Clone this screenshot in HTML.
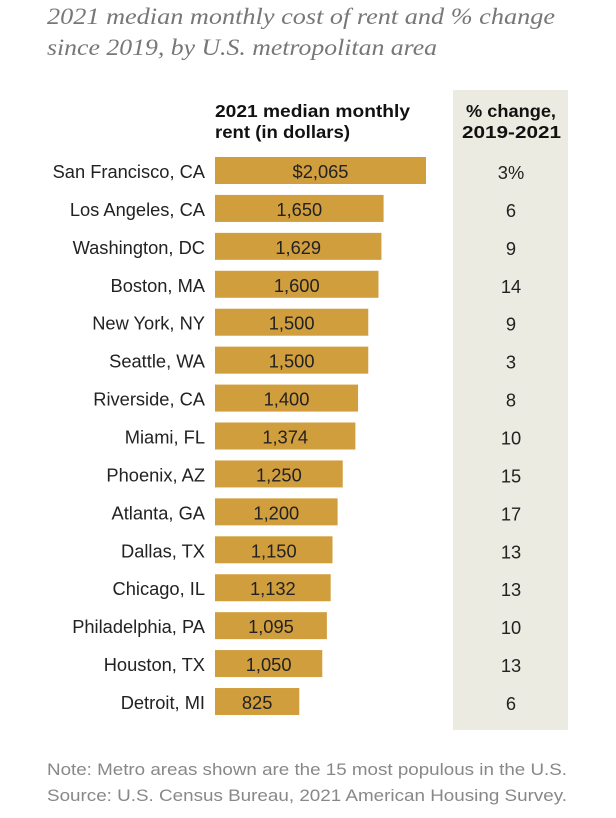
<!DOCTYPE html>
<html><head><meta charset="utf-8"><style>
body{margin:0;background:#fff;width:616px;height:813px;overflow:hidden;font-family:"Liberation Sans",sans-serif;}
</style></head><body>
<svg id="chart" width="616" height="813" xmlns="http://www.w3.org/2000/svg">
<text x="47" y="24" font-family="Liberation Serif" font-style="italic" font-size="23" fill="#777" textLength="508" lengthAdjust="spacingAndGlyphs">2021 median monthly cost of rent and % change</text>
<text x="47" y="55" font-family="Liberation Serif" font-style="italic" font-size="23" fill="#777" textLength="390" lengthAdjust="spacingAndGlyphs">since 2019, by U.S. metropolitan area</text>
<rect x="453" y="90" width="115" height="640" fill="#ecebe1"/>
<text x="215" y="117" font-size="17.5" font-weight="bold" fill="#111" textLength="195" lengthAdjust="spacingAndGlyphs">2021 median monthly</text>
<text x="215" y="138" font-size="17.5" font-weight="bold" fill="#111" textLength="135" lengthAdjust="spacingAndGlyphs">rent (in dollars)</text>
<text x="466" y="117" font-size="17.5" font-weight="bold" fill="#111" textLength="90" lengthAdjust="spacingAndGlyphs">% change,</text>
<text x="462" y="138" font-size="17.5" font-weight="bold" fill="#111" textLength="99" lengthAdjust="spacingAndGlyphs">2019-2021</text>
<g id="rows"></g>
<text x="47" y="775" font-size="16.5" fill="#888" textLength="520" lengthAdjust="spacingAndGlyphs">Note: Metro areas shown are the 15 most populous in the U.S.</text>
<text x="47" y="801" font-size="16.5" fill="#888" textLength="520" lengthAdjust="spacingAndGlyphs">Source: U.S. Census Bureau, 2021 American Housing Survey.</text>
</svg>
<script>
const cities=["San Francisco, CA","Los Angeles, CA","Washington, DC","Boston, MA","New York, NY","Seattle, WA","Riverside, CA","Miami, FL","Phoenix, AZ","Atlanta, GA","Dallas, TX","Chicago, IL","Philadelphia, PA","Houston, TX","Detroit, MI"];
const rents=[2065,1650,1629,1600,1500,1500,1400,1374,1250,1200,1150,1132,1095,1050,825];
const changes=[3,6,9,14,9,3,8,10,15,17,13,13,10,13,6];
const NS="http://www.w3.org/2000/svg";
const g=document.getElementById('rows');
const x0=215, scale=(426-215)/2065;
function xs(v){return v*scale;}
function yr(i){return 157+i*37.93;}
function mk(tag,attrs){const e=document.createElementNS(NS,tag);for(const k in attrs)e.setAttribute(k,attrs[k]);g.appendChild(e);return e;}
cities.forEach((c,i)=>{
  const y=yr(i), w=xs(rents[i]);
  const lab=mk('text',{x:205,y:y+21,'font-size':18.3,fill:'#222','text-anchor':'end'});
  lab.textContent=c;
  
  
  const b=mk('rect',{x:x0,y:y,width:w,height:27,fill:'#d19e3e'});
  
  
  const v=mk('text',{x:x0+w/2,y:y+21,'font-size':18.3,fill:'#222','text-anchor':'middle'});
  v.textContent=(i===0?'$':'')+rents[i].toLocaleString('en-US');
  
  
  const ch=mk('text',{x:511,y:y+22,'font-size':18.3,fill:'#222','text-anchor':'middle'});
  ch.textContent=changes[i]+(i===0?'%':'');
  
  
});
</script>
</body></html>
